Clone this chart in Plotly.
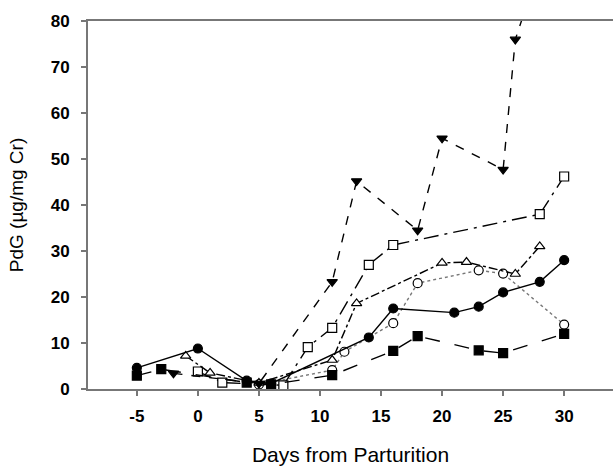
import plotly.graph_objects as go

# ---- data ----
fc_x = [-5, 0, 4, 6, 14, 16, 21, 23, 25, 28, 30]
fc_y = [4.6, 8.8, 1.8, 1.2, 11.2, 17.5, 16.6, 17.9, 21.0, 23.3, 28.0]

fs_x = [-5, -3, 4, 6, 11, 16, 18, 23, 25, 30]
fs_y = [2.9, 4.3, 1.4, 1.0, 3.0, 8.3, 11.5, 8.4, 7.8, 12.0]

ft_x = [-2, 5, 11, 13, 18, 20, 25, 26, 27.5]
ft_y = [3.4, 1.2, 23.3, 45.2, 34.5, 54.5, 47.7, 76.0, 88.0]

ot_x = [-1, 1, 5, 11, 13, 20, 22, 26, 28]
ot_y = [7.2, 3.5, 1.3, 6.3, 18.6, 27.4, 27.6, 25.0, 31.0]

os_x = [0, 2, 7, 9, 11, 14, 16, 28, 30]
os_y = [3.8, 1.4, 0.8, 9.1, 13.3, 27.0, 31.3, 38.0, 46.2]

oc_x = [5, 11, 12, 16, 18, 23, 25, 30]
oc_y = [1.0, 4.1, 8.1, 14.3, 23.0, 25.8, 25.1, 14.0]

x_ticks = [-5, 0, 5, 10, 15, 20, 25, 30]
x_labels = ["-5", "0", "5", "10", "15", "20", "25", "30"]
y_ticks = [0, 10, 20, 30, 40, 50, 60, 70, 80]

series = [
    (oc_x, oc_y, "circle", "dot", "white", "#777"),
    (os_x, os_y, "square", "longdashdot", "white", "black"),
    (ot_x, ot_y, "triangle-up", "dashdot", "white", "black"),
    (ft_x, ft_y, "triangle-down", "dash", "black", "black"),
    (fs_x, fs_y, "square", "longdash", "black", "black"),
    (fc_x, fc_y, "circle", "solid", "black", "black"),
]

fig = go.Figure()
for xs, ys, sym, dash, fill, lc in series:
    fig.add_trace(go.Scatter(
        x=xs, y=ys, mode="lines+markers",
        line=dict(color=lc, width=1.4, dash=dash),
        marker=dict(symbol=sym, size=9, color=fill,
                    line=dict(color="black", width=1.2)),
        cliponaxis=True, showlegend=False,
    ))

tick_font = dict(family="Liberation Sans", size=17, color="black", weight="bold")

fig.update_layout(
    width=613, height=471,
    margin=dict(l=88, r=0, t=21, b=82),
    paper_bgcolor="white", plot_bgcolor="white",
    xaxis=dict(
        range=[-9, 34], tickvals=x_ticks, ticktext=x_labels,
        showgrid=False, zeroline=False,
        showline=True, linecolor="#777", linewidth=2, mirror=True,
        ticks="outside", ticklen=5, tickcolor="#777", tickwidth=1.5,
        tickfont=tick_font, ticklabelstandoff=6,
        title=dict(text="Days from Parturition",
                   font=dict(family="Liberation Sans", size=21, color="black"),
                   standoff=22),
    ),
    yaxis=dict(
        range=[0, 80], tickvals=y_ticks,
        showgrid=False, zeroline=False,
        showline=True, linecolor="#777", linewidth=2,
        ticks="outside", ticklen=5, tickcolor="#777", tickwidth=1.5,
        tickfont=tick_font, ticklabelstandoff=8,
        title=dict(text="PdG (µg/mg Cr)",
                   font=dict(family="Liberation Sans", size=19, color="black"),
                   standoff=22),
    ),
)

fig.write_html("out.html")
